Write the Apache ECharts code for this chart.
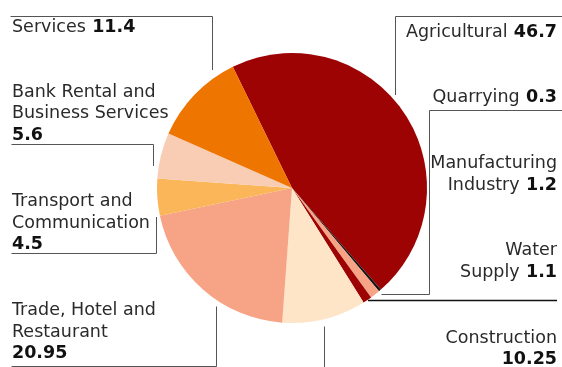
<!DOCTYPE html>
<html>
<head>
<meta charset="utf-8">
<script src="https://cdn.jsdelivr.net/npm/echarts@6/dist/echarts.min.js"></script>
<style>
  html, body { margin: 0; padding: 0; background: #fff; }
  #chart { width: 562px; height: 367px; }
</style>
</head>
<body>
<div id="chart"></div>
<script>
// Sector shares (%), listed clockwise from the upper edge of the pie
const sectors = [
  'Agricultural',
  'Quarrying',
  'Manufacturing\nIndustry',
  'Water\nSupply',
  'Construction',
  'Trade, Hotel and\nRestaurant',
  'Transport and\nCommunication',
  'Bank Rental and\nBusiness Services',
  'Services'
];
const shares = [46.7, 0.3, 1.2, 1.1, 10.25, 20.95, 4.5, 5.6, 11.4];
const shareText = ['46.7', '0.3', '1.2', '1.1', '10.25', '20.95', '4.5', '5.6', '11.4'];

const sliceColors = [
  '#9d0303', '#161616', '#f7a385', '#9d0303', '#fee5c8',
  '#f7a385', '#fbb65a', '#f8cdb4', '#ed7500'
];

// Label boxes: anchor point, alignment, whether the figure starts its own
// line, and the elbowed leader line drawn towards the pie.
const labelPlacement = [
  { x: 557, y: 22, align: 'right', newLine: false,
    line: [[562, 16.5], [395.5, 16.5], [395.5, 95]] },
  { x: 557, y: 86.3, align: 'right', newLine: false,
    line: [[562, 110.5], [429.5, 110.5], [429.5, 294.5], [381.5, 294.5]] },
  { x: 557, y: 152.9, align: 'right', newLine: false, line: null },
  { x: 557, y: 239.6, align: 'right', newLine: false,
    line: [[557, 300.5], [368, 300.5]], stroke: '#111', width: 1.3 },
  { x: 557, y: 327.3, align: 'right', newLine: true,
    line: [[557, 368.5], [324.5, 368.5], [324.5, 326.5]] },
  { x: 12, y: 299.6, align: 'left', newLine: true,
    line: [[11.5, 366.5], [216.5, 366.5], [216.5, 306.5]] },
  { x: 12, y: 190.6, align: 'left', newLine: true,
    line: [[11.5, 253.5], [156.5, 253.5], [156.5, 217]] },
  { x: 12, y: 81.3, align: 'left', newLine: true,
    line: [[11.5, 144.5], [153.5, 144.5], [153.5, 166]] },
  { x: 12, y: 16.4, align: 'left', newLine: false,
    line: [[10.5, 16.5], [212.5, 16.5], [212.5, 70]] }
];

const FONT = '"DejaVu Sans", "Liberation Sans", sans-serif';

const pieData = sectors.map((name, i) => {
  const p = labelPlacement[i];
  return {
    name: name,
    value: shares[i],
    itemStyle: { color: sliceColors[i] },
    labelLine: {
      show: !!p.line,
      lineStyle: { color: p.stroke || '#555', width: p.width || 1 }
    }
  };
});

const chart = echarts.init(document.getElementById('chart'), null, { renderer: 'canvas' });

chart.setOption({
  animation: false,
  backgroundColor: '#fff',
  series: [{
    type: 'pie',
    center: [292, 188],
    radius: 135,
    startAngle: 116,
    clockwise: true,
    avoidLabelOverlap: false,
    data: pieData,
    itemStyle: { borderWidth: 0 },
    emphasis: { disabled: true },
    label: {
      show: true,
      position: 'outer',
      alignTo: 'none',
      formatter: (p) => {
        const i = p.dataIndex;
        const nameLines = sectors[i].split('\n').map(l => '{n|' + l + '}').join('\n');
        const inline = !labelPlacement[i].newLine;
        return nameLines + (inline ? ' {vi|' : '\n{v|') + shareText[i] + '}';
      },
      rich: {
        n: { fontFamily: FONT, fontSize: 17.5, color: '#2a2a2a', lineHeight: 21.7 },
        v: { fontFamily: FONT, fontSize: 17.5, color: '#111', fontWeight: 'bold', lineHeight: 21.7 },
        vi: { fontFamily: FONT, fontSize: 17.5, color: '#111', fontWeight: 'bold', lineHeight: 21.7,
              padding: [0, 0, 0, 3] }
      }
    },
    labelLine: { show: true, length: 10, length2: 10, smooth: false },
    labelLayout: (params) => {
      const p = labelPlacement[params.dataIndex];
      const out = { x: p.x, y: p.y, align: p.align, verticalAlign: 'top', hideOverlap: false };
      if (p.line) out.labelLinePoints = p.line.map(pt => pt.slice());
      return out;
    }
  }]
});
</script>
</body>
</html>
